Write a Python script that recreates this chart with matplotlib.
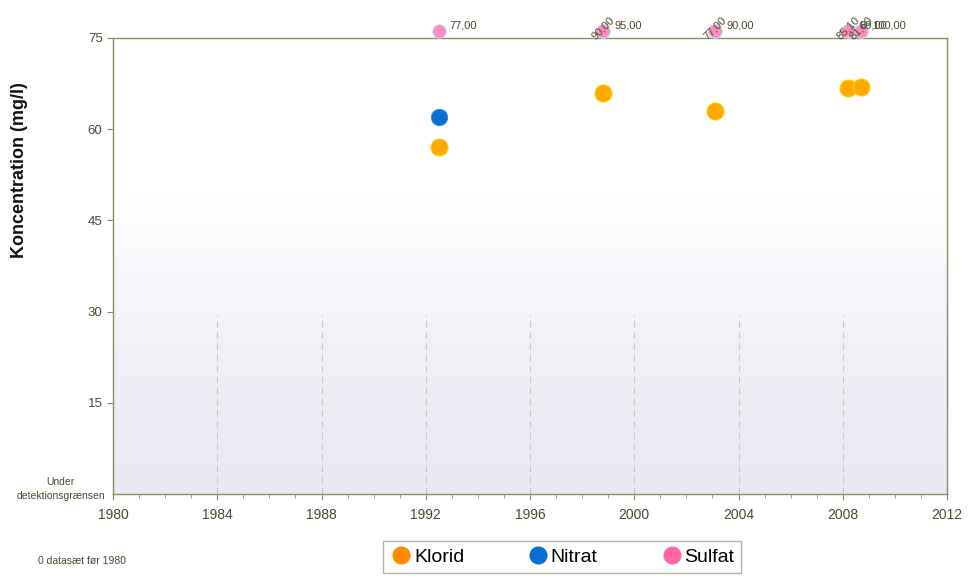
import matplotlib
matplotlib.use("Agg")
import matplotlib.pyplot as plt
import numpy as np
from matplotlib.lines import Line2D
from matplotlib.colors import LinearSegmentedColormap

plt.rcParams['font.family'] = ['Liberation Sans', 'DejaVu Sans']

# Data
klorid_year = [1992.5, 1998.8, 2003.1, 2008.2, 2008.7]
klorid_val = [57.0, 66.0, 63.0, 66.7, 67.0]
nitrat_year = [1992.5]
nitrat_val = [62.0]
# Sulfat values above the scale (shown at top with value labels)
sulfat_year = [1992.5, 1998.8, 1998.8, 2003.1, 2003.1, 2008.2, 2008.2, 2008.7, 2008.7]
sulfat_val = [77.00, 90.00, 95.00, 77.00, 90.00, 85.10, 89.00, 81.60, 100.00]
sulfat_rot = [False, True, False, True, False, True, False, True, False]

yticks = [15, 30, 45, 60, 75]
xticks = [1980, 1984, 1988, 1992, 1996, 2000, 2004, 2008, 2012]
grid_years = [1984, 1988, 1992, 1996, 2000, 2004, 2008]

c_klorid = '#FFA800'
c_klorid_leg = '#FF8A00'
c_nitrat = '#0A6FD0'
c_sulfat = '#FF8CC6'
c_axis = '#8C8C68'
c_text = '#4A4A30'

fig = plt.figure(figsize=(9.71, 5.78), dpi=100)
ax = fig.add_axes([113/971, (578-494)/578, 834/971, 456/578])
ax.set_xlim(1980, 2012)
ax.set_ylim(0, 75)

# gradient background
grad = np.linspace(0, 1, 256).reshape(-1, 1)
cmap = LinearSegmentedColormap.from_list('bg', ['#E9E8F3', '#F1F1F8', '#FFFFFF', '#FFFFFF'])
ax.imshow(grad, extent=[1980, 2012, 0, 75], aspect='auto', cmap=cmap, origin='lower', zorder=0)

for gy in grid_years:
    ax.plot([gy, gy], [0, 29.5], color='#C8C8C8', lw=0.8, ls=(0, (6, 4)), zorder=1)

ax.scatter(klorid_year, klorid_val, s=150, color=c_klorid, edgecolors='#FFD000', linewidths=0.8, zorder=3)
ax.scatter(nitrat_year, nitrat_val, s=140, color=c_nitrat, edgecolors='#3A8AE0', linewidths=0.6, zorder=3)

ytop = 76.2
for x, v, r in zip(sulfat_year, sulfat_val, sulfat_rot):
    ax.scatter([x], [ytop], s=95, color=c_sulfat, edgecolors='#BFE0F0', linewidths=0.6, zorder=4, clip_on=False)
    lab = f"{v:.2f}".replace('.', ',')
    if r:
        ax.annotate(lab, (x, ytop), xytext=(0, 2), textcoords='offset points', rotation=45,
                    ha='center', va='center', fontsize=8, color=c_text, zorder=5, annotation_clip=False)
    else:
        ax.annotate(lab, (x, ytop), xytext=(8, 0), textcoords='offset points',
                    ha='left', va='bottom', fontsize=8, color=c_text, zorder=5, annotation_clip=False)

for s in ax.spines.values():
    s.set_color(c_axis)
    s.set_linewidth(1.0)

ax.set_yticks(yticks)
ax.set_yticklabels([str(t) for t in yticks], fontsize=9.5, color=c_text)
ax.set_xticks(xticks)
ax.set_xticklabels([str(t) for t in xticks], fontsize=10, color=c_text)
ax.set_xticks(np.arange(1980, 2013, 1), minor=True)
ax.tick_params(axis='both', which='major', color=c_axis, length=4, direction='out')
ax.tick_params(axis='x', which='minor', color=c_axis, length=3, direction='out')
ax.tick_params(axis='x', pad=6)

ax.set_ylabel('Koncentration (mg/l)', fontsize=13, fontweight='bold', color='#111111')
ax.yaxis.set_label_coords((28 - 113) / 834, (494 - 170) / 456)

fig.text(105/971, 1 - 489/578, 'Under\ndetektionsgrænsen', ha='right', va='center',
         fontsize=7.5, color=c_text, multialignment='center', linespacing=1.4)
fig.text(38/971, 1 - 561/578, '0 datasæt før 1980', ha='left', va='center', fontsize=7.5, color=c_text)

handles = [Line2D([], [], marker='o', ls='', color=c_klorid_leg, markersize=12, label='Klorid'),
           Line2D([], [], marker='o', ls='', color=c_nitrat, markersize=12, label='Nitrat'),
           Line2D([], [], marker='o', ls='', color='#FF66AA', markersize=12, label='Sulfat')]
leg = fig.legend(handles=handles, loc='center', bbox_to_anchor=(562/971, 1 - 557/578), ncol=3,
                 fontsize=14, frameon=True, fancybox=False, edgecolor='#A0A090',
                 handletextpad=0.05, columnspacing=3.2, borderpad=0.35, handlelength=1.2)
leg.get_frame().set_linewidth(1.0)

fig.savefig('out.png', dpi=100)
